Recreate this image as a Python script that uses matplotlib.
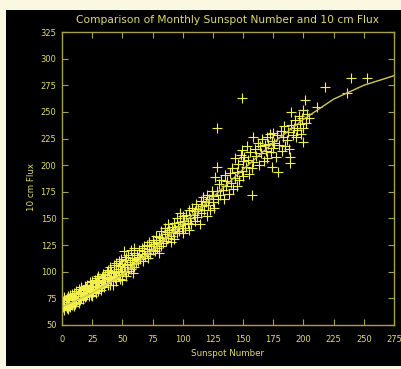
"""
Monthly sunspot number vs 10 cm solar flux, IDL-style black plot.
"""

import matplotlib.pyplot as plt
from matplotlib.patches import Rectangle

# scatter points (sunspot number, 10 cm flux)
SUNSPOT = [
    0, 0, 0, 1, 1, 2, 2, 2, 3, 3, 4, 4, 5, 5, 5, 6, 6, 7, 7, 8, 8, 8, 9, 9, 10,
    10, 10, 11, 11, 12, 12, 12, 13, 13, 14, 14, 15, 15, 15, 16, 16, 17, 17, 18,
    18, 19, 19, 20, 20, 20,
    21, 21, 22, 22, 23, 23, 24, 24, 25, 25, 25, 26, 26, 27, 27, 28, 28, 29, 29,
    30, 30, 30, 31, 31, 32, 32, 33, 33, 34, 34, 35, 35, 36, 36, 37, 37, 38, 38,
    39, 40, 40, 40,
    41, 41, 42, 42, 43, 43, 44, 45, 45, 45, 46, 47, 47, 48, 48, 49, 49, 50, 50,
    50, 51, 52, 52, 53, 53, 54, 55, 55, 56, 57, 57, 58, 58, 59, 60, 60, 60, 51,
    60,
    61, 62, 62, 63, 64, 64, 65, 66, 66, 67, 68, 68, 69, 70, 70, 71, 72, 72, 73,
    74, 75, 75, 76, 77, 78, 78, 79, 80, 80, 80,
    81, 82, 82, 83, 84, 85, 85, 86, 87, 88, 88, 89, 90, 90, 91, 92, 93, 93, 94,
    95, 95, 96, 97, 98, 98, 99, 100, 100, 100,
    101, 102, 103, 104, 105, 105, 106, 107, 108, 109, 110, 110, 111, 112, 113,
    114, 115, 115, 116, 117, 118, 119, 120, 120, 121, 122, 123, 124, 125, 125,
    126, 127, 128, 128, 129, 130, 131, 132, 133, 134, 135, 136, 137, 138, 139,
    140, 141, 142, 143, 143, 145, 145, 146, 147, 148, 149, 149, 150, 150, 128,
    149,
    151, 152, 153, 154, 155, 156, 157, 157, 158, 158, 160, 161, 162, 163, 164,
    165, 166, 167, 168, 169, 170, 170, 171, 172, 173, 174, 174, 175, 175,
    176, 177, 178, 179, 180, 181, 182, 183, 184, 185, 186, 187, 188, 189, 189,
    190, 190, 191, 192, 193, 194, 195, 196, 197, 198, 199, 200, 200, 200, 201,
    202, 203, 205, 211,
    218, 236, 239, 253,
]
FLUX = [
    65, 69, 74, 67, 72, 64, 70, 76, 68, 73, 66, 75, 70, 77, 65, 72, 68, 67, 78,
    74, 69, 79, 71, 76, 73, 68, 80, 75, 70, 77, 72, 82, 79, 74, 71, 84, 77, 73,
    81, 75, 86, 80, 74, 83, 78, 76, 87, 81, 85, 77,
    79, 88, 77, 84, 82, 90, 78, 86, 83, 91, 77, 87, 81, 92, 84, 80, 90, 86, 94,
    82, 89, 96, 85, 92, 88, 83, 95, 87, 91, 98, 86, 94, 97, 89, 100, 91, 88,
    102, 95, 93, 104, 88,
    92, 101, 96, 88, 99, 106, 94, 100, 108, 91, 103, 97, 110, 105, 93, 101,
    112, 98, 107, 92, 104, 111, 100, 96, 114, 106, 101, 116, 109, 103, 120,
    107, 113, 99, 111, 118, 104, 119, 122,
    108, 112, 116, 110, 114, 120, 112, 117, 122, 110, 119, 124, 115, 118, 125,
    113, 121, 128, 117, 124, 120, 130, 126, 119, 128, 134, 122, 127, 133, 118,
    130, 124, 138, 132, 127, 135, 141, 129, 137, 132, 145, 139, 134, 128, 142,
    137, 146, 131, 140, 136, 150, 143, 138, 147, 155, 141, 145, 136, 152,
    148, 141, 153, 146, 158, 139, 150, 145, 160, 153, 148, 157, 164, 151, 159,
    145, 166, 155, 162, 170, 158, 165, 152, 172, 163, 168, 158, 176, 165, 171,
    160, 189, 198, 176, 168, 182, 172, 186, 177, 168, 191, 180, 185, 173, 193,
    183, 197, 178, 207, 188, 180, 194, 201, 186, 210, 214, 195, 190, 204, 235,
    263,
    208, 198, 218, 205, 192, 212, 172, 197, 226, 203, 215, 209, 221, 200, 218,
    211, 225, 204, 219, 213, 226, 207, 220, 229, 212, 198, 223, 216, 230,
    221, 208, 228, 194, 219, 232, 213, 226, 237, 218, 224, 231, 215, 208, 202,
    250, 238, 228, 235, 242, 226, 233, 246, 239, 229, 244, 222, 235, 252, 261,
    240, 248, 244, 255,
    273, 268, 282, 282,
]

# fitted curve through the scatter
FIT_X = [0, 25, 50, 75, 100, 125, 150, 175, 200, 225, 250, 275]
FIT_Y = [67, 80, 97, 120, 145, 170, 196, 221, 243, 262, 275, 284]

X_TICKS = list(range(0, 276, 25))
Y_TICKS = list(range(50, 326, 25))

AXIS_COLOR = "#a8a048"
TEXT_COLOR = "#e2da6a"
POINT_COLOR = "#f2ee4a"


def main():
    fig = plt.figure(figsize=(4.01, 3.69), dpi=100, facecolor="#fbf8e2")
    fig.patches.append(Rectangle((6 / 401, 3 / 369), 1.0, 356 / 369,
                                 transform=fig.transFigure, facecolor="black",
                                 edgecolor="none", zorder=-10))

    ax = fig.add_axes([62 / 401, 1 - 325 / 369, 332 / 401, 293 / 369])
    ax.set_facecolor("black")

    ax.plot(SUNSPOT, FLUX, linestyle="none", marker="+", markersize=6.5,
            markeredgewidth=0.8, color=POINT_COLOR)
    ax.plot(FIT_X, FIT_Y, color="#cfc858", linewidth=1.0)

    ax.set_xlim(0, 275)
    ax.set_ylim(50, 325)
    ax.set_xticks(X_TICKS)
    ax.set_yticks(Y_TICKS)

    for spine in ax.spines.values():
        spine.set_color(AXIS_COLOR)
        spine.set_linewidth(1.0)
    ax.tick_params(direction="in", length=4.5, width=0.8, color=AXIS_COLOR,
                   labelcolor=TEXT_COLOR, labelsize=6, top=True, right=True)
    ax.tick_params(axis="x", pad=7)
    ax.tick_params(axis="y", pad=4)

    ax.set_xlabel("Sunspot Number", color=TEXT_COLOR, fontsize=6.3)
    ax.xaxis.set_label_coords(0.5, -0.082)
    ax.set_ylabel("10 cm Flux", color=TEXT_COLOR, fontsize=6.3)
    ax.yaxis.set_label_coords(-0.078, 0.471)

    fig.text(228 / 401, 1 - 20 / 369,
             "Comparison of Monthly Sunspot Number and 10 cm Flux",
             color=TEXT_COLOR, fontsize=7.7, ha="center", va="center")

    fig.savefig("out.png", dpi=100, facecolor=fig.get_facecolor())


if __name__ == "__main__":
    main()
